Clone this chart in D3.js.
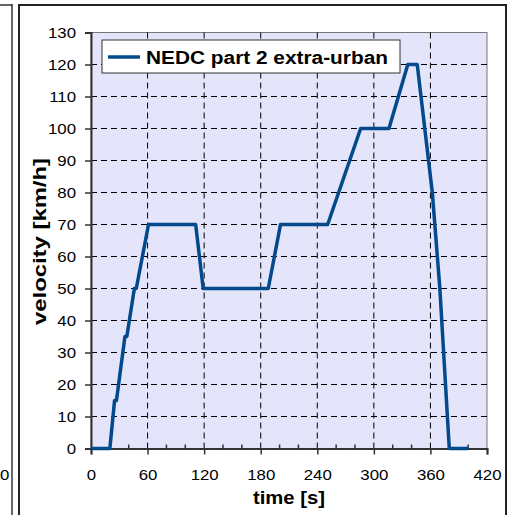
<!DOCTYPE html>
<html>
<head>
    <meta charset="UTF-8" />
    <title>NEDC part 2</title>
    <style>
        body {
            margin: 0;
            padding: 0;
            background: white;
            font-family: 'Liberation Sans', Arial, sans-serif;
        }
    </style>
</head>
<body>
    <div id="chart"></div>
    <script src="https://cdnjs.cloudflare.com/ajax/libs/d3/7.8.5/d3.min.js"></script>
    <script>
        // extra-urban cycle, time [s] and velocity [km/h]
        const times = [0, 20, 25, 27, 36, 38, 46, 48, 61, 111, 119, 188, 201, 251, 286, 316, 336, 346, 362, 370, 380, 400]
        const speeds = [0, 0, 15, 15, 35, 35, 50, 50, 70, 70, 50, 50, 70, 70, 100, 100, 120, 120, 80, 50, 0, 0]
        const xTicks = [0, 60, 120, 180, 240, 300, 360, 420]
        const xMinorTicks = [20, 40, 80, 100, 140, 160, 200, 220, 260, 280, 320, 340, 380, 400]
        const yTicks = [0, 10, 20, 30, 40, 50, 60, 70, 80, 90, 100, 110, 120, 130]
        const seriesName = 'NEDC part 2 extra-urban'

        const W = 512, H = 515
        const plot = { left: 91, right: 487, top: 32.5, bottom: 448.5 }
        const font = "'Liberation Sans', Arial, sans-serif"

        // the source fonts run wider than Arial, so stretch texts a bit
        function widen(sel, k) {
            sel.each(function () {
                const w = this.getComputedTextLength()
                d3.select(this).attr('textLength', w * k).attr('lengthAdjust', 'spacingAndGlyphs')
            })
        }

        const svg = d3.select('#chart').append('svg')
            .attr('width', W)
            .attr('height', H)
            .style('font-family', font)

        // neighbour chart remnant on the left
        svg.append('line').attr('x1', 12).attr('x2', 12).attr('y1', 4).attr('y2', H)
            .attr('stroke', '#000').attr('stroke-width', 1.2)
        svg.append('line').attr('x1', 0).attr('x2', 12).attr('y1', 5).attr('y2', 5)
            .attr('stroke', '#000').attr('stroke-width', 1.2)
        svg.append('text').attr('x', 0).attr('y', 480)
            .style('font-size', '15px').text('0')
            .call(widen, 1.12)

        // outer frame of this chart
        svg.append('rect').attr('x', 19).attr('y', 5).attr('width', 487).attr('height', H + 10)
            .attr('fill', 'white').attr('stroke', '#222').attr('stroke-width', 2)

        const x = d3.scaleLinear().domain([0, 420]).range([plot.left, plot.right])
        const y = d3.scaleLinear().domain([0, 130]).range([plot.bottom, plot.top])

        svg.append('rect')
            .attr('x', plot.left).attr('y', plot.top)
            .attr('width', plot.right - plot.left).attr('height', plot.bottom - plot.top)
            .attr('fill', '#e4e4fb')
            .attr('stroke', '#777').attr('stroke-width', 1)

        // grid
        svg.append('g').selectAll('line')
            .data(yTicks.filter(d => d > 0 && d < 130))
            .join('line')
            .attr('x1', plot.left).attr('x2', plot.right)
            .attr('y1', d => y(d)).attr('y2', d => y(d))
            .attr('stroke', '#000').attr('stroke-dasharray', '6,4').attr('stroke-width', 1)
        svg.append('g').selectAll('line')
            .data(xTicks.filter(d => d > 0 && d < 420))
            .join('line')
            .attr('x1', d => x(d)).attr('x2', d => x(d))
            .attr('y1', plot.top).attr('y2', plot.bottom)
            .attr('stroke', '#000').attr('stroke-dasharray', '6,4').attr('stroke-width', 1)

        // axes
        const yAxis = svg.append('g')
            .attr('transform', `translate(${plot.left},0)`)
            .call(d3.axisLeft(y).tickValues(yTicks).tickSize(6).tickPadding(9))
        const xAxis = svg.append('g')
            .attr('transform', `translate(0,${plot.bottom})`)
            .call(d3.axisBottom(x).tickValues(xTicks).tickSize(6).tickPadding(15))
        svg.append('g')
            .attr('transform', `translate(0,${plot.bottom})`)
            .selectAll('line')
            .data(xMinorTicks)
            .join('line')
            .attr('x1', d => x(d)).attr('x2', d => x(d))
            .attr('y1', 0).attr('y2', -4)
            .attr('stroke', '#333').attr('stroke-width', 1.5)

        for (const ax of [xAxis, yAxis]) {
            ax.select('.domain').attr('stroke', '#333').attr('stroke-width', 2)
            ax.selectAll('.tick line').attr('stroke', '#333').attr('stroke-width', 1.5)
            ax.selectAll('.tick text')
                .attr('fill', '#000')
                .style('font-family', font)
                .style('font-size', '15px')
                .call(widen, 1.12)
        }

        // velocity line
        const pts = times.map((t, i) => [t, speeds[i]])
        svg.append('path')
            .datum(pts)
            .attr('fill', 'none')
            .attr('stroke', '#034a8c')
            .attr('stroke-width', 3.5)
            .attr('stroke-linejoin', 'round')
            .attr('d', d3.line().x(d => x(d[0])).y(d => y(d[1])))

        // legend
        const lg = svg.append('g').attr('transform', 'translate(102,40)')
        lg.append('rect').attr('width', 298).attr('height', 33)
            .attr('fill', 'white').attr('stroke', '#333').attr('stroke-width', 1)
        lg.append('line').attr('x1', 6).attr('x2', 38).attr('y1', 17).attr('y2', 17)
            .attr('stroke', '#034a8c').attr('stroke-width', 3.5)
        lg.append('text').attr('x', 44).attr('y', 23.5)
            .style('font-size', '18px').style('font-weight', 'bold')
            .text(seriesName)
            .attr('textLength', 242).attr('lengthAdjust', 'spacingAndGlyphs')

        // axis titles
        svg.append('text')
            .attr('transform', 'translate(46,241.5) rotate(-90)')
            .attr('text-anchor', 'middle')
            .style('font-size', '18px').style('font-weight', 'bold')
            .text('velocity [km/h]')
            .attr('textLength', 167).attr('lengthAdjust', 'spacingAndGlyphs')
        svg.append('text')
            .attr('x', 289).attr('y', 504)
            .attr('text-anchor', 'middle')
            .style('font-size', '18px').style('font-weight', 'bold')
            .text('time [s]')
            .attr('textLength', 72).attr('lengthAdjust', 'spacingAndGlyphs')
    </script>
</body>
</html>
